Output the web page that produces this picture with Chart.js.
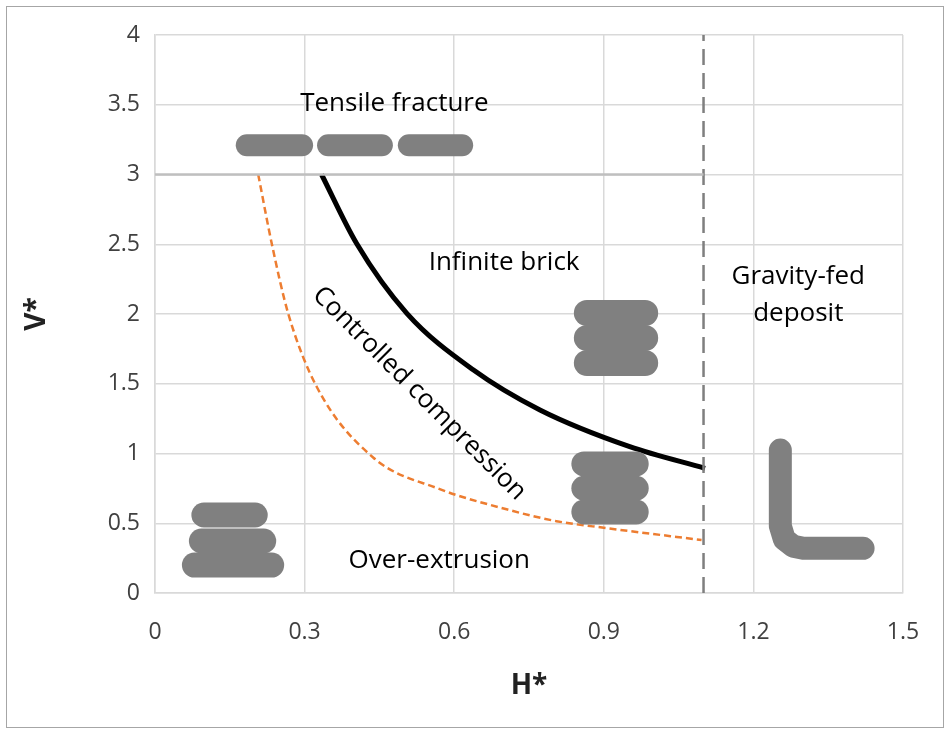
<!DOCTYPE html>
<html><head><meta charset="utf-8">
<script src="https://cdn.jsdelivr.net/npm/chart.js@4/dist/chart.umd.min.js"></script>
<style>html,body{margin:0;padding:0;background:#fff}#wrap{position:relative;width:952px;height:739px}
#frame{position:absolute;left:6px;top:6px;width:936px;height:720px;border:1.5px solid #a6a6a6;pointer-events:none}</style>
</head><body><div id="wrap"><canvas id="c" width="952" height="739"></canvas><div id="frame"></div></div>
<script>
const xTicks=[0,0.3,0.6,0.9,1.2,1.5];
const yTicks=[0,0.5,1,1.5,2,2.5,3,3.5,4];
const infiniteBrickH=[0.334,0.404,0.505,0.638,0.772,0.952,1.103];
const infiniteBrickV=[3.0,2.507,2.005,1.6,1.312,1.049,0.894];
const overExtrusionH=[0.207,0.234,0.267,0.324,0.438,0.571,0.705,0.805,0.906,1.096];
const overExtrusionV=[3.0,2.507,2.005,1.48,0.97,0.745,0.6,0.515,0.465,0.38];
const tensileLineH=[0,1.1], tensileLineV=[3,3];
const gravityLineH=[1.1,1.1], gravityLineV=[0,4];
// bead glyphs [h1,h2,v]
const beadsTop=[[0.184,0.295,3.21],[0.347,0.455,3.21],[0.509,0.616,3.21]];
const beadsLow=[[0.098,0.201,0.559],[0.093,0.218,0.373],[0.079,0.234,0.20]];
const beadsMid=[[0.86,0.965,0.925],[0.86,0.965,0.751],[0.86,0.965,0.581]];
const beadsBrick=[[0.866,0.983,2.007],[0.866,0.983,1.828],[0.866,0.983,1.649]];
const slumpH=[1.254,1.254,1.262,1.28,1.30,1.42];
const slumpV=[1.025,0.48,0.385,0.335,0.32,0.32];
const labels=[
 ["Tensile fracture",0.48,3.51,0],
 ["Infinite brick",0.70,2.37,0],
 ["Gravity-fed",1.29,2.27,0],
 ["deposit",1.29,2.0,0],
 ["Over-extrusion",0.57,0.23,0],
 ["Controlled compression",0.53,1.43,45]
];
const pts=(h,v)=>h.map((x,i)=>({x:x,y:v[i]}));
const ds=[];
const bead=(arr,w)=>arr.forEach(b=>ds.push({data:[{x:b[0],y:b[2]},{x:b[1],y:b[2]}],borderColor:'#808080',borderWidth:w,borderCapStyle:'round',pointRadius:0,showLine:true}));
ds.push({data:pts(tensileLineH,tensileLineV),borderColor:'#bfbfbf',borderWidth:2.5,pointRadius:0,showLine:true});
ds.push({data:pts(gravityLineH,gravityLineV),borderColor:'#7f7f7f',borderWidth:2.5,borderDash:[16,8],pointRadius:0,showLine:true});
bead(beadsTop,22);bead(beadsLow,25);bead(beadsMid,25);bead(beadsBrick,26);
ds.push({data:pts(slumpH,slumpV),borderColor:'#808080',borderWidth:23,borderCapStyle:'round',borderJoinStyle:'round',tension:0,pointRadius:0,showLine:true});
ds.push({data:pts(overExtrusionH,overExtrusionV),borderColor:'#ed7d31',borderWidth:2.5,borderDash:[7,4],cubicInterpolationMode:'monotone',pointRadius:0,showLine:true});
ds.push({data:pts(infiniteBrickH,infiniteBrickV),borderColor:'#000',borderWidth:5,cubicInterpolationMode:'monotone',pointRadius:0,showLine:true});
const textPlugin={id:'txt',afterDatasetsDraw(ch){const c=ch.ctx,x=ch.scales.x,y=ch.scales.y;c.save();
 c.fillStyle='#000';c.font='26px "Open Sans", sans-serif';c.textAlign='center';c.textBaseline='middle';
 labels.forEach(l=>{c.save();c.translate(x.getPixelForValue(l[1]),y.getPixelForValue(l[2]));c.rotate(l[3]*Math.PI/180);c.fillText(l[0],0,0);c.restore();});
 c.font='bold 28px "Open Sans", sans-serif';c.fillStyle='#222';
 c.fillText('H*',(x.left+x.right)/2,686);
 c.save();c.translate(37,(y.top+y.bottom)/2);c.rotate(-Math.PI/2);c.fillText('V*',0,0);c.restore();
 c.restore();}};
new Chart(document.getElementById('c'),{type:'scatter',data:{datasets:ds},plugins:[textPlugin],
options:{responsive:false,animation:false,events:[],
 layout:{padding:{left:10,right:49,top:35,bottom:10}},
 plugins:{legend:{display:false},tooltip:{enabled:false}},
 scales:{
  x:{type:'linear',min:0,max:1.5,afterBuildTicks:s=>{s.ticks=xTicks.map(v=>({value:v}));},
   afterFit:s=>{s.height=136;},
   grid:{color:'#d9d9d9',lineWidth:1.5,drawTicks:false},border:{color:'#d9d9d9',width:1.5},
   ticks:{padding:26,color:'#404040',font:{size:23,family:'"Open Sans", sans-serif'},callback:v=>String(v)}},
  y:{type:'linear',min:0,max:4,afterBuildTicks:s=>{s.ticks=yTicks.map(v=>({value:v}));},
   afterFit:s=>{s.width=145;},
   grid:{color:'#d9d9d9',lineWidth:1.5,drawTicks:false},border:{color:'#d9d9d9',width:1.5},
   ticks:{padding:15,color:'#404040',font:{size:23,family:'"Open Sans", sans-serif'},callback:v=>String(v)}}
 }}});
</script></body></html>
